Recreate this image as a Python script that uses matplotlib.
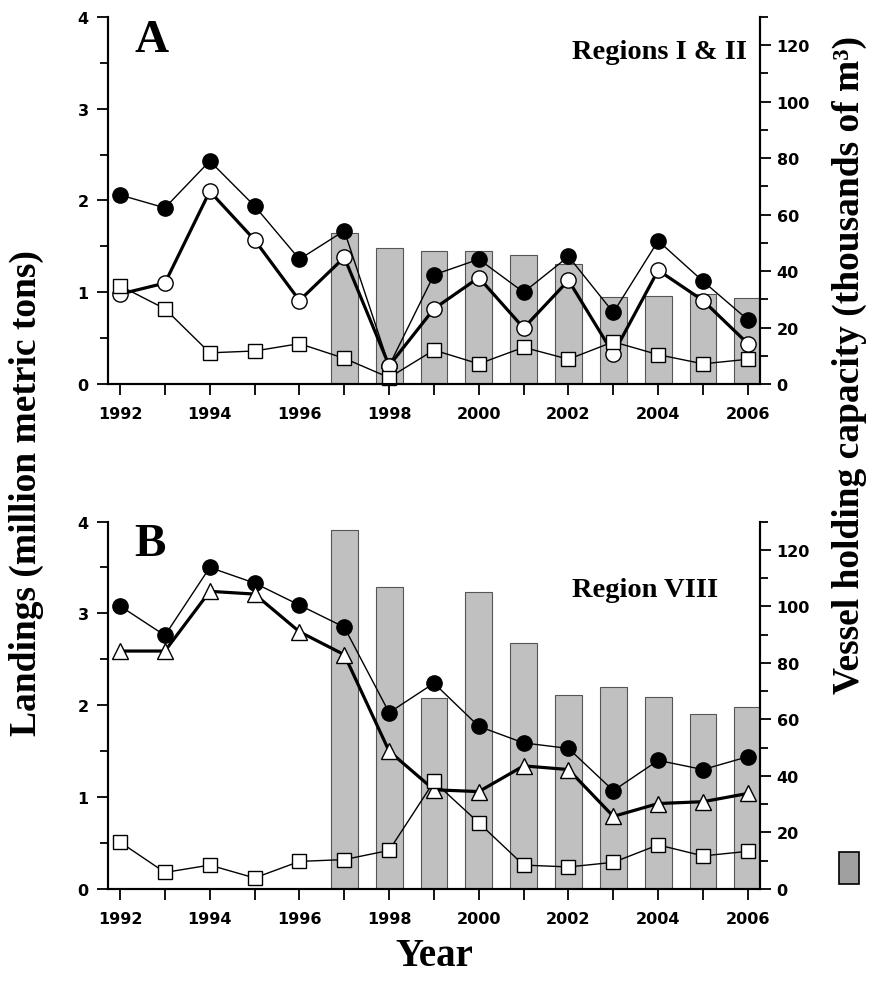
import numpy as np
import matplotlib.pyplot as plt
from matplotlib.patches import Rectangle
from matplotlib.ticker import MultipleLocator

years = np.arange(1992, 2007)
bar_years = np.arange(1997, 2007)

# Panel A - Regions I & II
a_total = [2.06, 1.92, 2.43, 1.94, 1.36, 1.67, 0.20, 1.19, 1.36, 1.00, 1.39, 0.78, 1.56, 1.12, 0.70]
a_open = [0.98, 1.10, 2.10, 1.57, 0.91, 1.38, 0.20, 0.82, 1.16, 0.61, 1.13, 0.33, 1.24, 0.91, 0.44]
a_square = [1.07, 0.82, 0.34, 0.36, 0.44, 0.28, 0.07, 0.37, 0.22, 0.40, 0.27, 0.46, 0.32, 0.22, 0.27]
a_capacity = [53.5, 48.1, 47.2, 47.2, 45.6, 42.5, 30.9, 31.3, 31.9, 30.5]

# Panel B - Region VIII
b_total = [3.08, 2.76, 3.50, 3.33, 3.09, 2.85, 1.92, 2.24, 1.77, 1.59, 1.53, 1.07, 1.40, 1.30, 1.44]
b_tri = [2.59, 2.59, 3.24, 3.21, 2.80, 2.55, 1.50, 1.08, 1.06, 1.34, 1.30, 0.79, 0.93, 0.95, 1.04]
b_square = [0.51, 0.18, 0.26, 0.12, 0.30, 0.32, 0.42, 1.17, 0.72, 0.26, 0.24, 0.29, 0.48, 0.36, 0.41]
b_capacity = [127.0, 106.9, 67.5, 105.2, 87.1, 68.7, 71.3, 67.9, 61.9, 64.3]

serif = "Liberation Serif"
tickfont = {"family": "DejaVu Sans", "weight": "bold", "size": 11.5}

fig = plt.figure(figsize=(8.8, 9.87), dpi=100)


def panel(rect, lines, capacity, letter, region, region_xy):
    ax = fig.add_axes(rect)
    ax2 = ax.twinx()
    ax.set_zorder(ax2.get_zorder() + 1)
    ax.patch.set_visible(False)

    ax2.bar(bar_years, capacity, width=0.6, color="#c0c0c0",
            edgecolor="#555555", linewidth=0.8)
    for vals, marker, face, ms, lw in lines:
        ax.plot(years, vals, color="black", lw=lw, marker=marker, ms=ms,
                mfc=face, mec="black", mew=1.0, clip_on=False)

    ax.set_xlim(1991.73, 2006.27)
    ax.set_ylim(0, 4)
    ax2.set_ylim(0, 130)
    ax.set_xticks(years)
    ax.set_xticklabels([str(y) if y % 2 == 0 else "" for y in years])
    ax.yaxis.set_major_locator(MultipleLocator(1))
    ax.yaxis.set_minor_locator(MultipleLocator(0.5))
    ax2.set_yticks(np.arange(0, 121, 20))
    ax2.yaxis.set_minor_locator(MultipleLocator(10))

    for a in (ax, ax2):
        a.spines["top"].set_visible(False)
        for s in a.spines.values():
            s.set_linewidth(1.5)
        a.tick_params(which="both", direction="out", width=1.3)
        a.tick_params(which="major", length=8)
        a.tick_params(which="minor", length=6)
        for lab in a.get_xticklabels() + a.get_yticklabels():
            lab.set_fontfamily(tickfont["family"])
            lab.set_fontweight(tickfont["weight"])
            lab.set_fontsize(tickfont["size"])
    ax.tick_params(axis="y", pad=6)
    ax2.tick_params(axis="y", pad=4)
    ax.tick_params(axis="x", pad=8)

    ax.text(0.04, 0.995, letter, transform=ax.transAxes, fontfamily=serif,
            fontweight="bold", fontsize=34, va="top", ha="left")
    ax.text(region_xy[0], region_xy[1], region, transform=ax.transAxes,
            fontfamily=serif, fontweight="bold", fontsize=20.5, va="center", ha="right")
    return ax


panel([0.1227, 0.6099, 0.7409, 0.3719],
      [(a_total, "o", "black", 11, 1.0),
       (a_open, "o", "white", 11, 2.3),
       (a_square, "s", "white", 10, 1.0)],
      a_capacity, "A", "Regions I & II", (0.98, 0.905))

axb = panel([0.1227, 0.0983, 0.7409, 0.3723],
            [(b_total, "o", "black", 11, 1.0),
             (b_tri, "^", "white", 11, 2.3),
             (b_square, "s", "white", 10, 1.0)],
            b_capacity, "B", "Region VIII", (0.936, 0.815))

axb.set_xlabel("Year", fontfamily=serif, fontweight="bold", fontsize=28, labelpad=8)

fig.text(0.03, 0.5, "Landings (million metric tons)", rotation=90, ha="center",
         va="center", fontfamily=serif, fontweight="bold", fontsize=27)
fig.text(0.965, 0.63, "Vessel holding capacity (thousands of m³)", rotation=90,
         ha="center", va="center", fontfamily=serif, fontweight="bold", fontsize=27)
fig.add_artist(Rectangle((0.953, 1 - 885 / 987), 20 / 880, 32 / 987,
                         transform=fig.transFigure, facecolor="#a0a0a0",
                         edgecolor="black", linewidth=1.2))

fig.savefig("out.png", dpi=100)
